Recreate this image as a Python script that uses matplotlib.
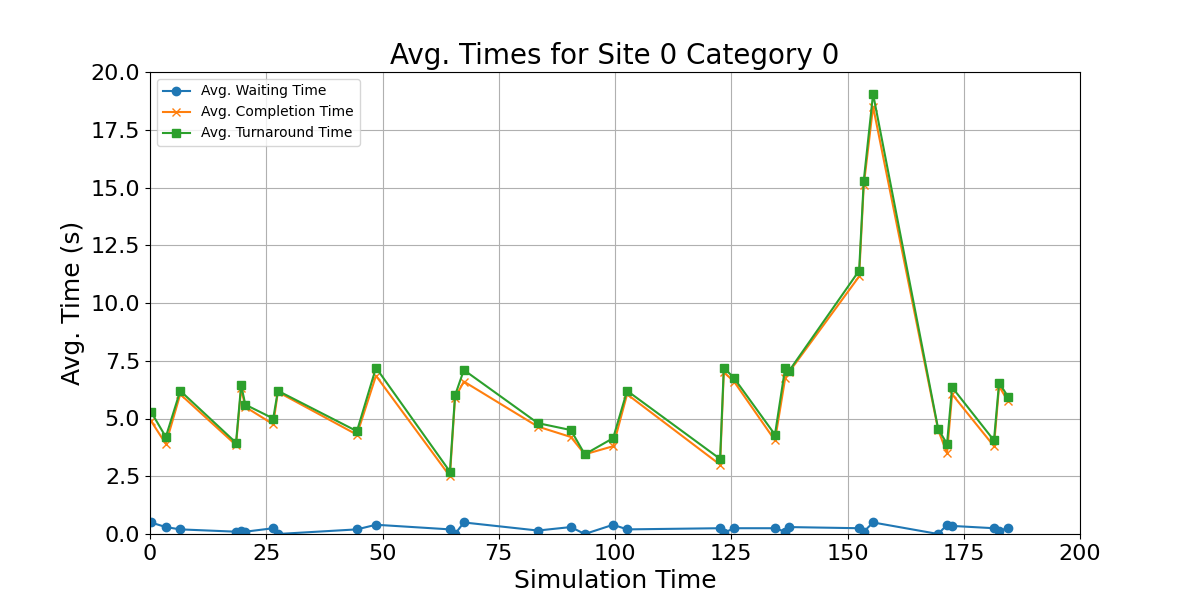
import matplotlib
matplotlib.use('Agg')
import matplotlib.pyplot as plt

# simulation time of each sample
sim_time = [0.2, 3.4, 6.5, 18.5, 19.6, 20.5, 26.5, 27.5, 44.5, 48.6, 64.5, 65.6, 67.5,
            83.4, 90.5, 93.5, 99.6, 102.6, 122.6, 123.4, 125.6, 134.4, 136.6, 137.4,
            152.5, 153.5, 155.5, 169.5, 171.4, 172.5, 181.5, 182.6, 184.5]
waiting = [0.5, 0.3, 0.2, 0.1, 0.12, 0.1, 0.25, 0.0, 0.2, 0.4, 0.2, 0.0, 0.5,
           0.15, 0.3, 0.0, 0.4, 0.2, 0.25, 0.05, 0.25, 0.25, 0.1, 0.3,
           0.25, 0.1, 0.5, 0.0, 0.4, 0.35, 0.25, 0.15, 0.25]
completion = [4.9, 3.9, 6.05, 3.85, 6.3, 5.5, 4.75, 6.15, 4.3, 6.85, 2.5, 5.9, 6.6,
              4.65, 4.2, 3.45, 3.8, 6.05, 3.0, 7.0, 6.6, 4.05, 6.75, 7.0,
              11.15, 15.1, 18.5, 4.5, 3.5, 6.05, 3.8, 6.4, 5.75]
turnaround = [5.3, 4.2, 6.2, 3.95, 6.45, 5.6, 5.0, 6.2, 4.45, 7.2, 2.7, 6.0, 7.1,
              4.8, 4.5, 3.45, 4.15, 6.2, 3.25, 7.2, 6.75, 4.3, 7.2, 7.05,
              11.4, 15.3, 19.05, 4.55, 3.9, 6.35, 4.05, 6.55, 5.95]

fig, ax = plt.subplots(figsize=(12, 6), dpi=100)
ax.plot(sim_time, waiting, 'o-', label='Avg. Waiting Time')
ax.plot(sim_time, completion, 'x-', label='Avg. Completion Time')
ax.plot(sim_time, turnaround, 's-', label='Avg. Turnaround Time')
ax.set_xlim(0, 200)
ax.set_ylim(0, 20)
ax.set_title('Avg. Times for Site 0 Category 0', fontsize=20)
ax.set_xlabel('Simulation Time', fontsize=18)
ax.set_ylabel('Avg. Time (s)', fontsize=18)
ax.tick_params(labelsize=16)
ax.grid(True)
ax.legend(loc='upper left', fontsize=10)
fig.savefig('out.png')
